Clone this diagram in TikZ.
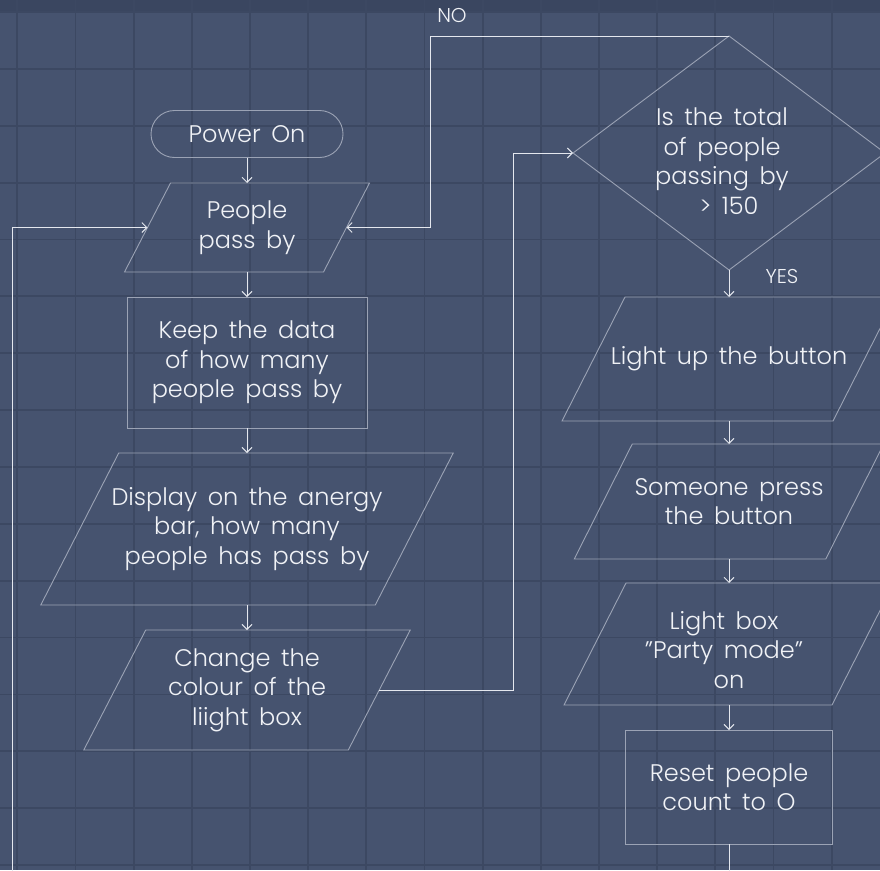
\documentclass[tikz,border=0pt]{standalone}
\usepackage{fontspec}
\IfFontExistsTF{Poppins Light}{\setmainfont{Poppins Light}}{\setmainfont{Poppins}}
\usetikzlibrary{arrows.meta,calc}
\definecolor{bg}{HTML}{46536F}
\definecolor{band}{HTML}{3A4660}
\definecolor{gridc}{HTML}{3C4862}
\definecolor{outc}{HTML}{9BA3B5}
\definecolor{conc}{HTML}{E4E7EE}
\definecolor{txtc}{HTML}{F0F2F6}
\tikzset{
  gridl/.style={gridc, line width=1.8pt},
  outl/.style={outc, line width=0.9pt},
  conn/.style={conc, line width=0.9pt, -{Straight Barb[length=5pt,width=10pt,line width=0.9pt]}},
  box/.style={rectangle, inner sep=0pt, outer sep=0pt, align=center, text=txtc,
    font=\fontsize{24}{29.5}\selectfont},
  lbl/.style={inner sep=0pt, text=txtc, font=\fontsize{20}{24}\selectfont}
}
\newcommand{\paral}[2]{\draw[outl] ([xshift=#2]#1.north west) -- ([xshift=#2]#1.north east) -- ([xshift=-#2]#1.south east) -- ([xshift=-#2]#1.south west) -- cycle;}
\begin{document}
\begin{tikzpicture}[x=1pt,y=-1pt]
\useasboundingbox (0,0) rectangle (880,870);
\clip (0,0) rectangle (880,870);
\fill[bg] (0,0) rectangle (880,870);
\fill[band] (0,0) rectangle (880,12);
\foreach \i in {0,...,14} \draw[gridl] ({17.3+58.17*\i},0) -- ++(0,870);
\foreach \j in {0,...,15} \draw[gridl] (0,{12+56.87*\j}) -- ++(880,0);

% left column
\node[box, minimum width=192pt, minimum height=47pt, draw=outc, line width=0.9pt, rounded corners=23.5pt] (power) at (247,134) {Power\, On};
\node[box, minimum width=199pt, minimum height=89pt] (people) at (247,227.5) {People\\pass\, by};
\node[box, minimum width=240pt, minimum height=131pt, draw=outc, line width=0.9pt] (keep) at (247,362.5) {Keep\, the\, data\\of\, how\, many\\people\, pass\, by};
\node[box, minimum width=334.5pt, minimum height=152pt] (display) at (247,529) {Display\, on\, the\, anergy\\bar,\, how\, many\\people\, has\, pass\, by};
\node[box, minimum width=264.5pt, minimum height=120pt] (change) at (247,690) {Change\, the\\colour\, of\, the\\liight\, box};

% right column
\node[box, minimum width=312pt, minimum height=234pt] (dec) at (729,153) {};
\node[box] (dectext) at (722,161) {Is\, the\, total\\of\, people\\passing\, by\\\hspace{14pt}>\, 150};
\node[box, minimum width=271pt, minimum height=124pt] (lightup) at (729,359) {Light\, up\, the\, button};
\node[box, minimum width=251.5pt, minimum height=115pt] (someone) at (729,501.5) {Someone\, press\\the\, button};
\node[box, minimum width=268pt, minimum height=122pt] (party) at (729,644) {};
\node[box] (partytext) at (724,650) {Light\, box\\\char"22 Party\, mode\char"22\\\hspace{10pt}on};
\node[box, minimum width=207pt, minimum height=114pt, draw=outc, line width=0.9pt] (reset) at (729,787) {Reset\, people\\count\, to\, O};

\paral{people}{23pt}
\paral{display}{39pt}
\paral{change}{31pt}
\paral{lightup}{31.5pt}
\paral{someone}{29pt}
\paral{party}{31pt}
\draw[outl] (dec.north) -- (dec.east) -- (dec.south) -- (dec.west) -- cycle;

% labels
\node[lbl] (nolbl) at (452,15) {NO};
\node[lbl] (yeslbl) at (782,276) {YES};

% helper coordinates
\coordinate (nocorner) at (430,36);
\coordinate (chcorner) at (513,690);
\coordinate (belowreset) at (729,900);
\coordinate (loopcorner) at (12,900);

% connectors
\draw[conn] (power.south) -- (people.north);
\draw[conn] (people.south) -- (keep.north);
\draw[conn] (keep.south) -- (display.north);
\draw[conn] (display.south) -- (change.north);
\draw[conn] (dec.south) -- (lightup.north);
\draw[conn] (lightup.south) -- (someone.north);
\draw[conn] (someone.south) -- (party.north);
\draw[conn] (party.south) -- (reset.north);
\draw[conn] (dec.north) -- (nocorner) |- (people.east);
\draw[conn] (change.east) -- (chcorner) |- (dec.west);
\draw[conn] (reset.south) -- (belowreset) -- (loopcorner) |- (people.west);
\end{tikzpicture}
\end{document}
